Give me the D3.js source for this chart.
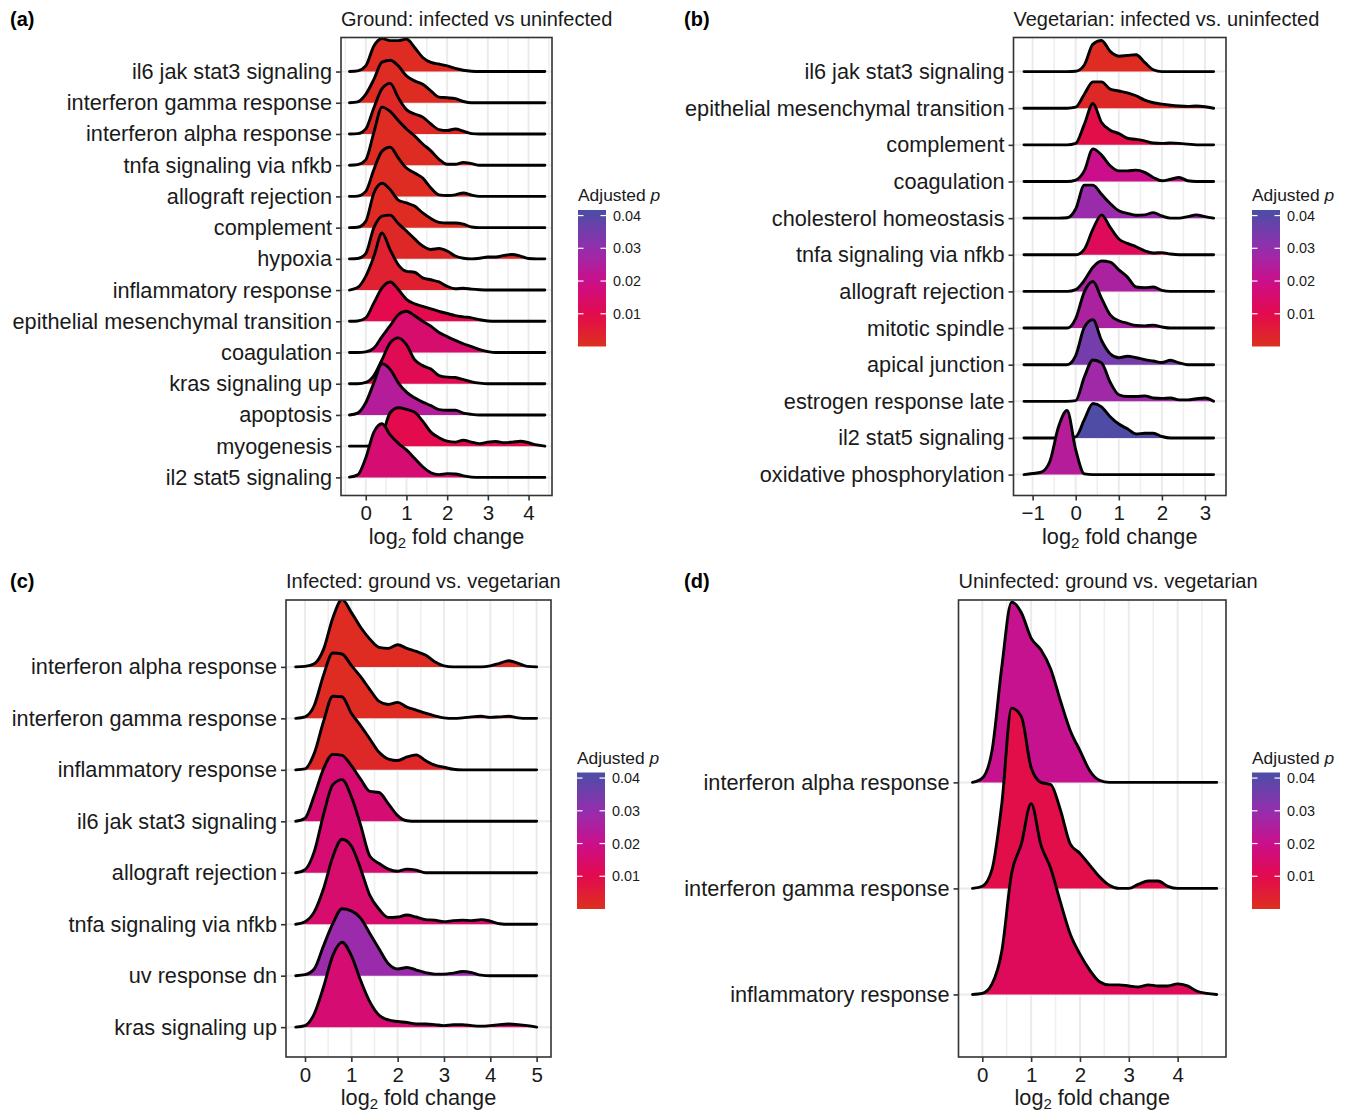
<!DOCTYPE html>
<html>
<head>
<meta charset="utf-8">
<script src="https://cdn.jsdelivr.net/npm/d3@7"></script>
<style>
body { margin: 0; background: #fff; }
text { font-family: "Liberation Sans", Arial, Helvetica, sans-serif; }
</style>
</head>
<body>
<script>
// ---- data: density heights (in row units) on a regular log2FC grid ----

// (a) Ground: infected vs uninfected, grid -0.4 .. 4.4 by 0.2
var catsA = ["il6 jak stat3 signaling", "interferon gamma response", "interferon alpha response",
	"tnfa signaling via nfkb", "allograft rejection", "complement", "hypoxia", "inflammatory response",
	"epithelial mesenchymal transition", "coagulation", "kras signaling up", "apoptosis", "myogenesis",
	"il2 stat5 signaling"];
var pA = [0.001, 0.001, 0.002, 0.001, 0.001, 0.001, 0.002, 0.004, 0.010, 0.015, 0.011, 0.024, 0.010, 0.016];
var densA = [
	[0, 0.02, 0.18, 0.82, 1.06, 0.99, 0.99, 1.04, 0.77, 0.45, 0.29, 0.24, 0.18, 0.10, 0.04, 0.01, 0, 0, 0, 0, 0, 0, 0, 0, 0],
	[0, 0.03, 0.27, 0.75, 1.30, 1.36, 1.18, 0.86, 0.70, 0.59, 0.38, 0.18, 0.16, 0.13, 0.04, 0, 0, 0, 0, 0, 0, 0, 0, 0, 0],
	[0, 0.01, 0.16, 0.84, 1.45, 1.62, 1.16, 0.78, 0.64, 0.54, 0.32, 0.14, 0.11, 0.16, 0.09, 0.01, 0, 0, 0, 0, 0, 0, 0, 0, 0],
	[0, 0.02, 0.17, 1.05, 1.86, 1.72, 1.43, 1.16, 0.94, 0.68, 0.46, 0.19, 0.03, 0.03, 0.09, 0.05, 0, 0, 0, 0, 0, 0, 0, 0, 0],
	[0, 0.01, 0.16, 0.86, 1.45, 1.58, 1.23, 0.91, 0.75, 0.59, 0.27, 0.05, 0.03, 0.05, 0.11, 0.04, 0, 0, 0, 0, 0, 0, 0, 0, 0],
	[0, 0.01, 0.20, 1.11, 1.42, 1.22, 0.88, 0.79, 0.69, 0.47, 0.29, 0.17, 0.15, 0.15, 0.11, 0.02, 0, 0, 0, 0, 0, 0, 0, 0, 0],
	[0, 0.01, 0.17, 1.00, 1.37, 1.40, 1.13, 0.89, 0.64, 0.41, 0.30, 0.33, 0.25, 0.09, 0.02, 0, 0.02, 0.06, 0.06, 0.11, 0.14, 0.09, 0.01, 0, 0],
	[0, 0.08, 0.44, 1.08, 1.83, 1.29, 0.81, 0.60, 0.57, 0.39, 0.33, 0.26, 0.12, 0.04, 0.06, 0.03, 0.01, 0, 0, 0, 0, 0, 0, 0, 0],
	[0, 0.01, 0.11, 0.59, 1.07, 1.26, 1.02, 0.70, 0.56, 0.48, 0.40, 0.32, 0.25, 0.18, 0.14, 0.11, 0.05, 0.01, 0, 0, 0, 0, 0, 0, 0],
	[0, 0, 0.02, 0.14, 0.51, 0.86, 1.21, 1.32, 1.18, 1.00, 0.84, 0.64, 0.51, 0.39, 0.28, 0.19, 0.09, 0.03, 0, 0, 0, 0, 0, 0, 0],
	[0, 0, 0.04, 0.26, 0.77, 1.31, 1.47, 1.25, 0.77, 0.58, 0.47, 0.26, 0.21, 0.20, 0.13, 0.06, 0.02, 0, 0, 0, 0, 0, 0, 0, 0],
	[0, 0.06, 0.39, 1.03, 1.64, 1.46, 1.03, 0.73, 0.55, 0.41, 0.30, 0.17, 0.15, 0.15, 0.06, 0.02, 0, 0, 0, 0, 0, 0, 0, 0, 0],
	[0, 0, 0, 0.03, 0.34, 1.07, 1.23, 1.18, 1.09, 0.80, 0.45, 0.27, 0.16, 0.13, 0.19, 0.13, 0.08, 0.13, 0.15, 0.11, 0.13, 0.16, 0.11, 0.04, 0],
	[0.01, 0.08, 0.62, 1.45, 1.72, 1.36, 1.09, 0.88, 0.61, 0.34, 0.15, 0.09, 0.12, 0.11, 0.05, 0.01, 0, 0, 0, 0, 0, 0, 0, 0, 0]
];

// (b) Vegetarian: infected vs. uninfected, grid -1.2 .. 3.2 by 0.2
var catsB = ["il6 jak stat3 signaling", "epithelial mesenchymal transition", "complement", "coagulation",
	"cholesterol homeostasis", "tnfa signaling via nfkb", "allograft rejection", "mitotic spindle",
	"apical junction", "estrogen response late", "il2 stat5 signaling", "oxidative phosphorylation"];
var pB = [0.001, 0.002, 0.009, 0.020, 0.029, 0.012, 0.026, 0.026, 0.035, 0.028, 0.041, 0.024];
var densB = [
	[0, 0, 0, 0, 0, 0, 0.01, 0.18, 0.75, 0.85, 0.55, 0.42, 0.44, 0.46, 0.25, 0.05, 0, 0, 0, 0, 0, 0, 0],
	[0, 0, 0, 0, 0, 0, 0.03, 0.38, 0.72, 0.72, 0.52, 0.47, 0.42, 0.34, 0.22, 0.15, 0.11, 0.08, 0.06, 0.05, 0.06, 0.04, 0],
	[0, 0, 0, 0, 0, 0, 0.04, 0.56, 1.13, 0.61, 0.40, 0.31, 0.18, 0.15, 0.11, 0.05, 0.04, 0.05, 0.04, 0.02, 0, 0, 0],
	[0, 0, 0, 0, 0, 0, 0.04, 0.29, 0.89, 0.72, 0.43, 0.29, 0.29, 0.31, 0.25, 0.11, 0.02, 0.06, 0.11, 0.02, 0, 0, 0],
	[0, 0, 0, 0, 0, 0.01, 0.25, 0.90, 0.90, 0.65, 0.40, 0.20, 0.13, 0.08, 0.09, 0.15, 0.06, 0, 0, 0.04, 0.09, 0.04, 0],
	[0, 0, 0, 0, 0, 0, 0, 0.15, 0.70, 1.09, 0.75, 0.43, 0.31, 0.22, 0.11, 0.05, 0.06, 0.02, 0, 0, 0, 0, 0],
	[0, 0, 0, 0, 0, 0, 0.05, 0.30, 0.66, 0.83, 0.80, 0.59, 0.39, 0.12, 0.10, 0.12, 0.03, 0, 0, 0, 0, 0, 0],
	[0, 0, 0, 0, 0, 0, 0.26, 0.99, 1.27, 0.81, 0.36, 0.20, 0.13, 0.07, 0.06, 0.08, 0.03, 0, 0, 0, 0, 0, 0],
	[0, 0, 0, 0, 0, 0, 0.25, 1.02, 1.23, 0.66, 0.30, 0.19, 0.23, 0.19, 0.14, 0.10, 0.06, 0.12, 0.05, 0, 0, 0, 0],
	[0, 0, 0, 0, 0, 0, 0.02, 0.66, 1.13, 1.05, 0.52, 0.18, 0.13, 0.13, 0.15, 0.09, 0.08, 0.09, 0.04, 0.04, 0.07, 0.09, 0],
	[0, 0, 0, 0, 0, 0, 0.03, 0.50, 0.94, 0.85, 0.58, 0.38, 0.25, 0.11, 0.13, 0.13, 0.04, 0, 0, 0, 0, 0, 0],
	[0, 0.03, 0.07, 0.36, 1.30, 1.75, 0.68, 0.02, 0, 0, 0, 0, 0, 0, 0, 0, 0, 0, 0, 0, 0, 0, 0]
];

// (c) Infected: ground vs. vegetarian, grid -0.2 .. 5.0 by 0.2
var catsC = ["interferon alpha response", "interferon gamma response", "inflammatory response",
	"il6 jak stat3 signaling", "allograft rejection", "tnfa signaling via nfkb", "uv response dn",
	"kras signaling up"];
var pC = [0.001, 0.001, 0.002, 0.016, 0.016, 0.015, 0.029, 0.016];
var densC = [
	[0, 0.01, 0.06, 0.34, 0.95, 1.31, 1.06, 0.77, 0.54, 0.38, 0.36, 0.43, 0.36, 0.30, 0.23, 0.10, 0.02, 0, 0, 0, 0, 0.02, 0.07, 0.12, 0.07, 0.01, 0],
	[0, 0.03, 0.25, 0.84, 1.27, 1.25, 1.03, 0.81, 0.56, 0.33, 0.27, 0.31, 0.22, 0.16, 0.10, 0.05, 0.01, 0, 0.01, 0.03, 0.04, 0.02, 0.03, 0.04, 0.01, 0, 0],
	[0, 0.02, 0.32, 0.94, 1.43, 1.42, 1.10, 0.86, 0.60, 0.34, 0.21, 0.18, 0.25, 0.29, 0.18, 0.09, 0.05, 0.01, 0, 0, 0, 0, 0, 0, 0, 0, 0],
	[0, 0.06, 0.50, 1.02, 1.30, 1.28, 1.08, 0.82, 0.58, 0.56, 0.34, 0.11, 0.01, 0, 0, 0, 0, 0, 0, 0, 0, 0, 0, 0, 0, 0, 0],
	[0, 0.06, 0.41, 1.13, 1.71, 1.81, 1.48, 0.93, 0.32, 0.18, 0.07, 0.03, 0.07, 0.05, 0, 0, 0, 0, 0, 0, 0, 0, 0, 0, 0, 0, 0],
	[0, 0.05, 0.24, 0.69, 1.31, 1.65, 1.52, 1.08, 0.56, 0.29, 0.13, 0.14, 0.18, 0.14, 0.09, 0.08, 0.05, 0.07, 0.08, 0.07, 0.09, 0.06, 0.01, 0, 0, 0, 0],
	[0, 0.02, 0.13, 0.58, 1.01, 1.30, 1.26, 1.12, 0.82, 0.52, 0.23, 0.13, 0.16, 0.11, 0.06, 0.03, 0.03, 0.05, 0.08, 0.06, 0.01, 0, 0, 0, 0, 0, 0],
	[0, 0.03, 0.26, 0.78, 1.39, 1.65, 1.39, 0.91, 0.49, 0.23, 0.14, 0.11, 0.09, 0.06, 0.06, 0.05, 0.03, 0.05, 0.05, 0.03, 0.02, 0.03, 0.05, 0.06, 0.05, 0.03, 0]
];

// (d) Uninfected: ground vs. vegetarian, grid -0.2 .. 4.8 by 0.2
var catsD = ["interferon alpha response", "interferon gamma response", "inflammatory response"];
var pD = [0.021, 0.009, 0.012];
var densD = [
	[0, 0.04, 0.30, 1.09, 1.70, 1.60, 1.36, 1.25, 1.07, 0.77, 0.49, 0.30, 0.11, 0.02, 0, 0, 0, 0, 0, 0, 0, 0, 0, 0, 0, 0],
	[0, 0.02, 0.18, 0.80, 1.70, 1.62, 1.14, 1.00, 0.98, 0.74, 0.42, 0.33, 0.22, 0.11, 0.03, 0, 0, 0.04, 0.07, 0.07, 0.02, 0, 0, 0, 0, 0],
	[0, 0.01, 0.10, 0.41, 1.14, 1.42, 1.80, 1.41, 1.19, 0.87, 0.57, 0.38, 0.23, 0.12, 0.09, 0.09, 0.08, 0.07, 0.09, 0.08, 0.08, 0.10, 0.08, 0.03, 0.01, 0]
];

var pTicks = [0.01, 0.02, 0.03, 0.04];
var pLimits = [0, 0.0417];

// ---- layout ----
var width = 1348,
	height = 1111;

var svg = d3.select("body")
	.append("svg")
	.attr("width", width)
	.attr("height", height);

// red -> crimson -> magenta -> purple -> blue, as in the colour bar
var fillColor = d3.scaleLinear()
	.domain([0, 0.01, 0.02, 0.03, 0.0417])
	.range(["#dd301e", "#e30a4e", "#cb0f8b", "#942fae", "#4b4ea6"])
	.clamp(true);

var gradient = svg.append("defs").append("linearGradient")
	.attr("id", "pgrad")
	.attr("x1", 0).attr("y1", 1).attr("x2", 0).attr("y2", 0);
d3.range(0, 1.0001, 0.05).forEach(function(t) {
	gradient.append("stop")
		.attr("offset", t)
		.attr("stop-color", fillColor(pLimits[0] + t * (pLimits[1] - pLimits[0])));
});

var panels = [
	{ label: "(a)", title: "Ground: infected vs uninfected", cats: catsA, p: pA, dens: densA,
		gridStart: -0.4, left: 341, right: 552, top: 37.5, bottom: 495.5, xDomain: [-0.608, 4.576],
		ticks: [0, 1, 2, 3, 4], padB: 0.58, padT: 1.09, labelX: 10 },
	{ label: "(b)", title: "Vegetarian: infected vs. uninfected", cats: catsB, p: pB, dens: densB,
		gridStart: -1.2, left: 1013.5, right: 1226, top: 37.5, bottom: 495.5, xDomain: [-1.443, 3.487],
		ticks: [-1, 0, 1, 2, 3], padB: 0.57, padT: 0.93, labelX: 684 },
	{ label: "(c)", title: "Infected: ground vs. vegetarian", cats: catsC, p: pC, dens: densC,
		gridStart: -0.2, left: 286, right: 551, top: 600, bottom: 1057, xDomain: [-0.41, 5.31],
		ticks: [0, 1, 2, 3, 4, 5], padB: 0.58, padT: 1.30, labelX: 10 },
	{ label: "(d)", title: "Uninfected: ground vs. vegetarian", cats: catsD, p: pD, dens: densD,
		gridStart: -0.2, left: 958.5, right: 1226, top: 600, bottom: 1057, xDomain: [-0.487, 4.99],
		ticks: [0, 1, 2, 3, 4], padB: 0.59, padT: 1.72, labelX: 684 }
];

panels.forEach(drawPanel);

function drawPanel(cfg, pi) {
	var n = cfg.cats.length;
	var g = svg.append("g");

	var x = d3.scaleLinear().domain(cfg.xDomain).range([cfg.left, cfg.right]);
	// row 0 is the bottom category
	var y = d3.scaleLinear().domain([-cfg.padB, n - 1 + cfg.padT]).range([cfg.bottom, cfg.top]);

	var grid = d3.range(cfg.dens[0].length).map(function(i) {
		return cfg.gridStart + 0.2 * i;
	});

	var clipId = "clip" + pi;
	svg.select("defs").append("clipPath").attr("id", clipId)
		.append("rect")
		.attr("x", cfg.left).attr("y", cfg.top)
		.attr("width", cfg.right - cfg.left).attr("height", cfg.bottom - cfg.top);

	// grid lines
	var minor = [];
	for (var m = Math.ceil(cfg.xDomain[0] * 2) / 2; m <= cfg.xDomain[1]; m += 0.5) {
		if (Math.abs(m - Math.round(m)) > 0.1) minor.push(m);
	}
	g.selectAll(".minor").data(minor).enter().append("line")
		.attr("x1", function(d) { return x(d); }).attr("x2", function(d) { return x(d); })
		.attr("y1", cfg.top).attr("y2", cfg.bottom)
		.attr("stroke", "#efefef").attr("stroke-width", 1.5);
	g.selectAll(".major").data(cfg.ticks).enter().append("line")
		.attr("x1", function(d) { return x(d); }).attr("x2", function(d) { return x(d); })
		.attr("y1", cfg.top).attr("y2", cfg.bottom)
		.attr("stroke", "#ebebeb").attr("stroke-width", 2);
	g.selectAll(".hgrid").data(d3.range(n)).enter().append("line")
		.attr("x1", cfg.left).attr("x2", cfg.right)
		.attr("y1", function(d) { return y(d); }).attr("y2", function(d) { return y(d); })
		.attr("stroke", "#ebebeb").attr("stroke-width", 2);

	// ridges, top row first so lower rows overlap upper ones
	var ridges = g.append("g").attr("clip-path", "url(#" + clipId + ")");
	cfg.cats.forEach(function(cat, i) {
		var row = n - 1 - i;
		var pts = grid.map(function(v, j) { return [v, cfg.dens[i][j]]; });
		var area = d3.area()
			.curve(d3.curveMonotoneX)
			.x(function(d) { return x(d[0]); })
			.y0(y(row))
			.y1(function(d) { return y(row + d[1]); });
		var line = d3.line()
			.curve(d3.curveMonotoneX)
			.x(function(d) { return x(d[0]); })
			.y(function(d) { return y(row + d[1]); });
		ridges.append("path")
			.attr("d", area(pts))
			.attr("fill", fillColor(cfg.p[i]));
		ridges.append("path")
			.attr("d", line(pts))
			.attr("fill", "none")
			.attr("stroke", "#000")
			.attr("stroke-width", 2.9)
			.attr("stroke-linecap", "round")
			.attr("stroke-linejoin", "round");
	});

	// panel border
	g.append("rect")
		.attr("x", cfg.left).attr("y", cfg.top)
		.attr("width", cfg.right - cfg.left).attr("height", cfg.bottom - cfg.top)
		.attr("fill", "none").attr("stroke", "#333").attr("stroke-width", 1.6);

	// axes
	var xAxis = g.append("g")
		.attr("transform", "translate(0," + cfg.bottom + ")")
		.call(d3.axisBottom(x).tickValues(cfg.ticks).tickSize(5).tickPadding(5)
			.tickFormat(function(d) { return d < 0 ? "\u2212" + Math.abs(d) : d; }));
	xAxis.select(".domain").remove();
	xAxis.selectAll("line").attr("stroke", "#333").attr("stroke-width", 1.6);
	xAxis.selectAll("text").attr("font-size", "20.5px").attr("fill", "#1a1a1a")
		.style("font-family", "'Liberation Sans', Arial, sans-serif");

	var yAxis = g.append("g")
		.attr("transform", "translate(" + cfg.left + ",0)")
		.call(d3.axisLeft(y).tickValues(d3.range(n)).tickSize(5).tickPadding(4)
			.tickFormat(function(r) { return cfg.cats[n - 1 - r]; }));
	yAxis.select(".domain").remove();
	yAxis.selectAll("line").attr("stroke", "#333").attr("stroke-width", 1.6);
	yAxis.selectAll("text").attr("font-size", "21.7px").attr("fill", "#1a1a1a")
		.style("font-family", "'Liberation Sans', Arial, sans-serif");

	// x title with subscript
	var xt = g.append("text")
		.attr("x", (cfg.left + cfg.right) / 2)
		.attr("y", cfg.bottom + 48)
		.attr("text-anchor", "middle")
		.attr("font-size", "21.7px")
		.attr("fill", "#1a1a1a");
	xt.append("tspan").text("log");
	xt.append("tspan").attr("dy", 4).attr("font-size", "15px").text("2");
	xt.append("tspan").attr("dy", -4).text(" fold change");

	// panel title and tag
	g.append("text")
		.attr("x", cfg.left).attr("y", cfg.top - 12)
		.attr("font-size", "20px").attr("fill", "#1a1a1a")
		.text(cfg.title);
	g.append("text")
		.attr("x", cfg.labelX).attr("y", cfg.top - 12)
		.attr("font-size", "20px").attr("font-weight", "bold").attr("fill", "#000")
		.text(cfg.label);

	// colour bar legend
	var lx = cfg.right + 26,
		barTop = cfg.top + 172.5,
		barBottom = barTop + 136.5;
	var py = d3.scaleLinear().domain(pLimits).range([barBottom, barTop]);
	var lt = g.append("text")
		.attr("x", lx).attr("y", barTop - 9)
		.attr("font-size", "17.4px").attr("fill", "#1a1a1a");
	lt.append("tspan").text("Adjusted ");
	lt.append("tspan").attr("font-style", "italic").text("p");
	g.append("rect")
		.attr("x", lx).attr("y", barTop)
		.attr("width", 28).attr("height", barBottom - barTop)
		.attr("fill", "url(#pgrad)");
	pTicks.forEach(function(t) {
		g.append("line").attr("x1", lx).attr("x2", lx + 5.5)
			.attr("y1", py(t)).attr("y2", py(t))
			.attr("stroke", "#fff").attr("stroke-width", 1.2);
		g.append("line").attr("x1", lx + 22.5).attr("x2", lx + 28)
			.attr("y1", py(t)).attr("y2", py(t))
			.attr("stroke", "#fff").attr("stroke-width", 1.2);
		g.append("text")
			.attr("x", lx + 35).attr("y", py(t))
			.attr("dy", "0.35em")
			.attr("font-size", "14.4px").attr("fill", "#1a1a1a")
			.text(t.toFixed(2));
	});
}
</script>
</body>
</html>
